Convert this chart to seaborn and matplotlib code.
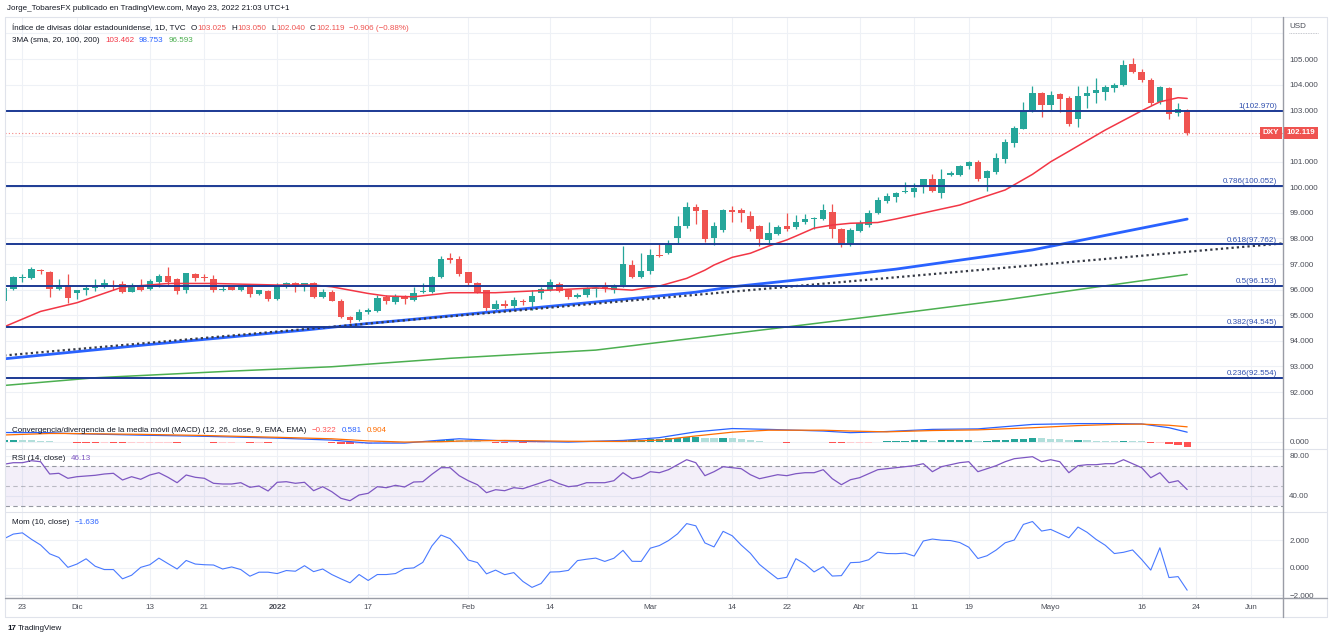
import numpy as np
import pandas as pd
import matplotlib
matplotlib.use("Agg")
import matplotlib.pyplot as plt
import seaborn as sns
from matplotlib.lines import Line2D
from matplotlib.text import Annotation
from matplotlib.transforms import blended_transform_factory

# ---------------- data ----------------
open_ = [95.55, 96.01, 96.44, 96.47, 96.78, 96.70, 96.02, 96.17, 95.88, 96.00,
         96.08, 96.10, 96.14, 96.21, 95.92, 96.18, 96.01, 96.31, 96.52, 96.40,
         95.98, 96.62, 96.50, 96.42, 95.99, 96.10, 96.00, 96.11, 95.82, 95.94,
         95.62, 96.09, 96.25, 96.15, 96.24, 95.70, 95.89, 95.55, 94.94, 94.81,
         95.12, 95.16, 95.72, 95.53, 95.76, 95.60, 95.91, 95.90, 96.50, 97.23,
         97.19, 96.67, 96.24, 95.98, 95.24, 95.44, 95.36, 95.55, 95.50, 95.88,
         95.98, 96.22, 95.98, 95.72, 95.79, 96.02, 96.12, 95.98, 96.18, 96.96,
         96.48, 96.74, 97.36, 97.42, 98.00, 98.48, 99.24, 99.11, 98.00, 98.33,
         99.10, 99.11, 98.87, 98.49, 97.94, 98.17, 98.48, 98.43, 98.62, 98.76,
         98.76, 99.04, 98.37, 97.78, 98.30, 98.52, 98.98, 99.45, 99.63, 99.80,
         99.82, 100.04, 100.32, 99.76, 100.48, 100.47, 100.82, 100.97, 100.34, 100.60,
         101.10, 101.71, 102.27, 103.01, 103.69, 103.20, 103.62, 103.49, 102.66, 103.55,
         103.66, 103.73, 103.87, 103.99, 104.79, 104.51, 104.18, 103.31, 103.86, 102.88,
         103.025]
high_ = [96.20, 96.55, 96.60, 96.89, 96.80, 96.72, 96.42, 96.60, 96.00, 96.18,
         96.42, 96.40, 96.38, 96.34, 96.25, 96.42, 96.42, 96.60, 96.87, 96.45,
         96.66, 96.64, 96.60, 96.58, 96.20, 96.15, 96.18, 96.15, 96.00, 96.00,
         96.26, 96.28, 96.30, 96.27, 96.28, 96.04, 96.00, 95.62, 94.98, 95.26,
         95.30, 95.78, 95.80, 95.82, 95.80, 96.12, 96.24, 96.55, 97.30, 97.42,
         97.30, 96.70, 96.30, 96.00, 95.58, 95.58, 95.70, 95.62, 95.99, 96.10,
         96.40, 96.30, 96.00, 95.85, 96.10, 96.12, 96.30, 96.22, 97.72, 97.15,
         97.42, 97.60, 97.78, 97.92, 98.87, 99.42, 99.33, 99.12, 98.62, 99.15,
         99.28, 99.18, 99.05, 98.52, 98.62, 98.52, 98.99, 98.92, 98.97, 98.85,
         99.35, 99.34, 98.40, 98.40, 98.70, 99.10, 99.62, 99.76, 99.82, 100.19,
         100.15, 100.33, 100.52, 100.72, 100.62, 100.88, 101.02, 101.05, 100.66, 101.32,
         101.88, 102.40, 103.34, 103.95, 103.72, 103.75, 103.68, 103.55, 103.96, 103.95,
         104.25, 104.00, 104.05, 104.96, 105.03, 104.62, 104.25, 103.95, 103.92, 103.30,
         103.05]
low_ = [95.50, 95.98, 96.30, 96.42, 96.62, 95.72, 95.98, 95.46, 95.62, 95.80,
        95.95, 96.08, 95.98, 95.86, 95.90, 95.95, 95.99, 96.10, 96.17, 95.82,
        95.85, 96.35, 96.33, 95.92, 95.96, 95.97, 95.96, 95.72, 95.80, 95.55,
        95.58, 96.05, 95.90, 95.95, 95.68, 95.68, 95.55, 94.88, 94.68, 94.78,
        95.05, 95.12, 95.43, 95.42, 95.45, 95.55, 95.88, 95.88, 96.45, 97.05,
        96.55, 96.20, 95.85, 95.14, 95.16, 95.30, 95.30, 95.40, 95.22, 95.65,
        95.95, 95.90, 95.65, 95.66, 95.70, 95.70, 95.90, 95.85, 96.10, 96.45,
        96.45, 96.62, 97.28, 97.40, 97.80, 98.42, 98.55, 97.85, 97.74, 98.25,
        98.64, 98.64, 98.30, 97.72, 97.82, 98.12, 98.30, 98.38, 98.55, 98.35,
        98.72, 98.00, 97.68, 97.70, 98.25, 98.45, 98.95, 99.40, 99.42, 99.76,
        99.62, 99.76, 99.80, 99.56, 100.45, 100.42, 100.72, 100.25, 99.85, 100.50,
        100.95, 101.55, 102.25, 102.95, 102.75, 103.00, 102.95, 102.40, 102.36, 103.08,
        103.30, 103.42, 103.70, 103.95, 104.45, 104.12, 103.22, 103.25, 102.66, 102.78,
        102.04]
close_ = [96.05, 96.48, 96.48, 96.80, 96.74, 96.01, 96.17, 95.66, 95.98, 96.08,
          96.12, 96.27, 96.10, 95.92, 96.16, 95.99, 96.33, 96.54, 96.28, 95.96,
          96.64, 96.47, 96.44, 95.98, 96.03, 96.00, 96.10, 95.82, 95.97, 95.62,
          96.16, 96.24, 96.10, 96.24, 95.70, 95.92, 95.57, 94.92, 94.80, 95.14,
          95.20, 95.69, 95.55, 95.72, 95.62, 95.87, 95.96, 96.50, 97.18, 97.17,
          96.60, 96.24, 95.92, 95.27, 95.44, 95.36, 95.60, 95.50, 95.75, 96.02,
          96.28, 95.94, 95.72, 95.78, 96.05, 96.05, 96.05, 96.18, 97.00, 96.48,
          96.73, 97.35, 97.32, 97.74, 98.50, 99.24, 99.08, 97.97, 98.50, 99.11,
          99.04, 98.98, 98.36, 97.97, 98.20, 98.43, 98.38, 98.62, 98.76, 98.80,
          99.11, 98.37, 97.78, 98.33, 98.59, 99.00, 99.50, 99.64, 99.77, 99.85,
          99.95, 100.30, 99.85, 100.32, 100.55, 100.82, 100.98, 100.30, 100.63, 101.12,
          101.75, 102.30, 102.98, 103.66, 103.20, 103.59, 103.45, 102.46, 103.57, 103.68,
          103.79, 103.92, 104.00, 104.77, 104.48, 104.18, 103.27, 103.90, 102.85, 103.03,
          102.119]

sma20_idx = [0, 4, 8, 12, 13, 18, 23, 30, 34, 36, 40, 42, 45, 49, 54, 60, 65, 69, 72, 75,
             77, 78, 80, 82, 84, 86, 87, 89, 91, 93, 96, 98, 105, 107, 110, 113, 115, 117,
             121, 125, 127, 129, 130]
sma20_val = [94.55, 95.15, 95.49, 95.98, 96.10, 96.24, 96.24, 96.18, 96.18, 96.11, 95.85,
             95.75, 95.72, 95.88, 95.88, 95.98, 96.07, 95.98, 96.14, 96.44, 96.76, 96.96,
             97.26, 97.42, 97.70, 97.94, 98.09, 98.40, 98.52, 98.59, 98.62, 98.76, 99.30,
             99.54, 99.89, 100.50, 100.99, 101.40, 102.23, 102.98, 103.33, 103.49, 103.462]
sma100_idx = [0, 16, 33, 40, 44, 49, 71, 76, 80, 93, 98, 113, 130]
sma100_val = [93.30, 93.86, 94.42, 94.68, 94.81, 94.98, 95.72, 95.90, 96.11, 96.60, 96.80,
              97.55, 98.753]
sma200_idx = [0, 10, 25, 36, 49, 65, 85, 100, 110, 120, 130]
sma200_val = [92.26, 92.56, 92.82, 92.99, 93.32, 93.64, 94.50, 95.15, 95.60, 96.10, 96.593]

trend_idx = [0, 141]
trend_val = [93.43, 97.82]

fib_levels = [102.970, 100.052, 97.762, 96.153, 94.545, 92.554]
fib_labels = ["1(102.970)", "0.786(100.052)", "0.618(97.762)", "0.5(96.153)",
              "0.382(94.545)", "0.236(92.554)"]

macd_idx = [0, 5, 7, 15, 22, 30, 36, 40, 44, 48, 50, 55, 62, 68, 72, 76, 80, 84, 90, 93,
            97, 102, 107, 113, 118, 122, 125, 128, 130]
macd_line = [0.56, 0.55, 0.50, 0.40, 0.33, 0.22, 0.10, -0.08, -0.08, 0.10, 0.18, 0.05,
             -0.02, 0.08, 0.25, 0.60, 0.80, 0.75, 0.65, 0.55, 0.62, 0.75, 0.78, 1.05,
             1.10, 1.10, 1.08, 0.85, 0.581]
macd_signal = [0.41, 0.50, 0.50, 0.45, 0.38, 0.27, 0.18, 0.05, -0.02, 0.00, 0.04, 0.08,
               0.03, 0.02, 0.10, 0.35, 0.58, 0.70, 0.70, 0.65, 0.60, 0.68, 0.72, 0.85,
               0.98, 1.05, 1.07, 1.00, 0.904]
macd_hist = [0.10, 0.10, 0.09, 0.08, 0.06, 0.03, 0.01, -0.02,
             -0.05, -0.07, -0.08, -0.08, -0.09, -0.10, -0.09, -0.09, -0.08, -0.06, -0.05, -0.06, -0.04,
             -0.04, -0.04, -0.05, -0.05, -0.05, -0.04, -0.05, -0.05, -0.07, -0.04, -0.03, -0.03, -0.02, -0.04, -0.04,
             -0.06, -0.12, -0.15, -0.13, -0.12, -0.08, -0.07, -0.05, -0.04, -0.02,
             0.01, 0.05, 0.12, 0.15, 0.12, 0.08, 0.04,
             -0.03, -0.05, -0.07, -0.07, -0.08, -0.07, -0.05, -0.03, -0.03, -0.04,
             -0.02, 0.00, 0.02, 0.03, 0.04, 0.10, 0.10, 0.11, 0.15, 0.17, 0.20, 0.25, 0.30, 0.30, 0.22, 0.20, 0.22, 0.20,
             0.17, 0.12, 0.05, 0.00, -0.03, -0.05, -0.04, -0.04, -0.04, -0.02, -0.06, -0.10, -0.10, -0.08, -0.05,
             -0.01, 0.02, 0.05, 0.07, 0.08, 0.10, 0.07, 0.08, 0.09, 0.10, 0.11, 0.07, 0.07, 0.08, 0.11, 0.14, 0.18, 0.22,
             0.20, 0.19, 0.16, 0.08, 0.09, 0.08, 0.07, 0.06, 0.05, 0.07, 0.05, 0.02, -0.06, -0.06, -0.14, -0.18, -0.322]

rsi_vals = [71.5, 73.0, 73.0, 75.0, 74.0, 61.7, 62.4, 57.4, 59.0, 59.7,
            60.4, 61.7, 62.4, 55.7, 59.0, 56.4, 60.7, 63.0, 58.4, 53.0,
            60.7, 58.4, 57.4, 52.4, 51.7, 51.7, 53.0, 48.4, 49.7, 44.7,
            53.4, 54.0, 52.4, 53.4, 45.0, 49.0, 44.0, 37.4, 35.0, 40.7,
            42.4, 49.0, 48.0, 50.4, 48.7, 53.7, 54.0, 61.4, 68.0, 68.0,
            60, 55, 51, 43, 46, 45, 48, 47, 50, 53,
            56, 52, 49, 50, 53, 53, 53, 55, 63, 57,
            59, 64, 63, 66, 71, 76, 73, 60, 64, 69,
            68, 67, 61, 57, 59, 61, 60, 62, 63, 63,
            66, 57, 51, 56, 58, 62, 66, 67, 68, 69,
            70, 72, 64, 69, 71, 73, 74, 64, 67, 70,
            74, 77, 78, 79, 74, 76, 74, 63, 70, 71,
            71, 72, 72, 76, 72, 68, 58, 63, 53, 55,
            46.13]
mom_vals = [2.1, 2.43, 2.52, 2.05, 1.64, 1.0, 0.74, 0.02, 0.26, 0.64,
            0.1, -0.14, -0.14, -0.81, -0.55, 0.02, 0.21, 0.69, 0.29, -0.1,
            0.52, 0.26, 0.21, 0.19, -0.1, 0.05, -0.14, -0.62, -0.33, -0.33,
            -0.43, -0.21, -0.26, 0.14, -0.29, -0.1, -0.5, -0.81, -1.10, -0.5,
            -0.93, -0.5, -0.5, -0.43, -0.07, -0.02, 0.38, 1.57, 2.36, 2.10,
            1.40, 0.55, 0.37, -0.45, -0.18, -0.51, -0.36, -1.00, -1.43, -1.15,
            -0.32, -0.30, -0.20, 0.51, 0.61, 0.69, 0.45, 0.68, 1.25, 0.46,
            0.45, 1.41, 1.60, 1.96, 2.45, 3.19, 3.03, 1.79, 1.50, 2.63,
            2.31, 1.63, 1.04, 0.23, -0.30, -0.81, -0.70, 0.65, 0.26, -0.31,
            0.07, -0.61, -0.58, 0.36, 0.39, 0.57, 1.12, 1.02, 1.01, 1.05,
            0.84, 1.93, 2.07, 1.99, 1.96, 1.82, 1.48, 0.66, 0.86, 1.27,
            1.80, 2.00, 3.13, 3.34, 2.65, 2.77, 2.47, 2.16, 2.94, 2.56,
            2.04, 1.62, 1.02, 1.11, 1.28, 0.59, -0.18, 1.44, -0.72, -0.65,
            -1.636]

tick_dates = ["2021-11-23", "2021-12-01", "2021-12-13", "2021-12-21", "2022-01-03",
              "2022-01-17", "2022-02-01", "2022-02-14", "2022-03-01", "2022-03-14",
              "2022-03-22", "2022-04-01", "2022-04-11", "2022-04-19", "2022-05-02",
              "2022-05-16", "2022-05-24", "2022-06-01"]
tick_labels = ["23", "Dic", "13", "21", "2022", "17", "Feb", "14", "Mar", "14", "22",
               "Abr", "11", "19", "Mayo", "16", "24", "Jun"]

price_ticks = list(range(91, 107))

# ---------------- style ----------------
sns.set_theme(style="white")
plt.rcParams['font.family'] = ['Liberation Sans', 'DejaVu Sans']
plt.rcParams['axes.unicode_minus'] = True

W, H = 1332, 641
fig = plt.figure(figsize=(W / 100, H / 100), dpi=100)
fig.patch.set_facecolor('white')

TEAL, RED = '#26a69a', '#ef5350'
GRID = '#eef1f6'
TXT = '#131722'
LBL = '#4a4d57'
FS = 5.75
FIBC = '#1c3a94'
FIBT = '#2f4fae'


def rect(l, t, r, b):
    return [l / W, 1 - b / H, (r - l) / W, (b - t) / H]


ax = fig.add_axes(rect(5, 17, 1283, 418))
axm = fig.add_axes(rect(5, 418, 1283, 449))
axr = fig.add_axes(rect(5, 449, 1283, 512))
axo = fig.add_axes(rect(5, 512, 1283, 598))

x = np.arange(len(close_))
dates = pd.bdate_range("2021-11-19", "2022-06-15")
dates = dates[dates != pd.Timestamp("2021-12-24")]
tick_pos = [dates.get_loc(pd.Timestamp(d)) for d in tick_dates]

for a in (ax, axm, axr, axo):
    a.set_facecolor('white')
    for s in a.spines.values():
        s.set_visible(False)
    a.set_xlim(0.088, 140.53)
    a.set_xticks(tick_pos)
    a.yaxis.tick_right()
    a.tick_params(axis='both', length=0, labelsize=FS, labelcolor=LBL, pad=4.5)
    a.grid(True, color=GRID, lw=0.8)
    a.set_axisbelow(True)
for a in (ax, axm, axr):
    a.tick_params(labelbottom=False)
axo.set_xticklabels(tick_labels)
axo.tick_params(axis='x', pad=4.3)
for t in axo.get_xticklabels():
    if t.get_text() == "2022":
        t.set_fontweight('bold')

# ---------------- main price panel ----------------
o = np.array(open_); c = np.array(close_); hi = np.array(high_); lo = np.array(low_)
col = np.where(c >= o, TEAL, RED)
ax.vlines(x, lo, hi, colors=col, lw=0.9, zorder=3)
ax.bar(x, np.maximum(np.abs(c - o), 0.015), bottom=np.minimum(o, c), width=0.72,
       color=col, lw=0, zorder=4)

sns.lineplot(x=sma200_idx, y=sma200_val, ax=ax, color='#4caf50', linewidth=1.1, zorder=5)
sns.lineplot(x=sma100_idx, y=sma100_val, ax=ax, color='#2962ff', linewidth=2.0, zorder=5)
sns.lineplot(x=sma20_idx, y=sma20_val, ax=ax, color='#f23645', linewidth=1.1, zorder=5)
ax.plot(trend_idx, trend_val, color='#363a45', lw=1.6, ls=(0, (1, 1.4)), zorder=6)

blend = blended_transform_factory(ax.transAxes, ax.transData)
for lvl, lab in zip(fib_levels, fib_labels):
    ax.axhline(lvl, color=FIBC, lw=1.4, zorder=6)
    ax.annotate(lab, xy=(1, lvl), xycoords=blend, xytext=(-4.3, 0.6),
                textcoords='offset points', ha='right', va='bottom', fontsize=FS,
                color=FIBT, zorder=7, annotation_clip=False)

last = close_[-1]
ax.axhline(last, color=RED, lw=0.8, ls=(0, (1, 2)), alpha=0.7, zorder=2)
ax.annotate(f"{last:.3f}", xy=(1, last), xycoords=blend, xytext=(2.6, 0),
            textcoords='offset points', ha='left', va='center', fontsize=FS,
            color='white', fontweight='bold', annotation_clip=False, zorder=8,
            bbox=dict(boxstyle='square,pad=0.35', fc=RED, ec='none'))
ax.annotate("DXY", xy=(1, last), xycoords=blend, xytext=(-3, 0),
            textcoords='offset points', ha='right', va='center', fontsize=FS,
            color='white', fontweight='bold', annotation_clip=False, zorder=8,
            bbox=dict(boxstyle='square,pad=0.35', fc=RED, ec='none'))

ax.set_ylim(90.99, 106.64)
ax.set_yticks(price_ticks)
ax.set_yticklabels(["" if (v in (91, 102, 106)) else f"{v:.3f}" for v in price_ticks])

# ---------------- MACD ----------------
hcol = []
for k, hv in enumerate(macd_hist):
    pv = macd_hist[k - 1] if k > 0 else hv
    if hv >= 0:
        hcol.append('#26a69a' if hv >= pv else '#b2dfdb')
    else:
        hcol.append('#ff5252' if hv < pv else '#ffcdd2')
axm.bar(x, macd_hist, width=0.8, color=hcol, lw=0, zorder=3)
sns.lineplot(x=macd_idx, y=macd_line, ax=axm, color='#2962ff', linewidth=0.9, zorder=4)
sns.lineplot(x=macd_idx, y=macd_signal, ax=axm, color='#ff6d00', linewidth=0.9, zorder=4)
axm.set_ylim(-0.44, 1.44)
axm.set_yticks([0])
axm.set_yticklabels(["0.000"])

# ---------------- RSI ----------------
axr.axhspan(30, 70, color='#7e57c2', alpha=0.09, lw=0, zorder=1)
for lv, al in ((70, 1.0), (50, 0.6), (30, 1.0)):
    axr.axhline(lv, color='#9598a1', lw=0.8, ls=(0, (4, 3)), alpha=al, zorder=2)
sns.lineplot(x=x, y=rsi_vals, ax=axr, color='#7e57c2', linewidth=0.9, zorder=4)
axr.set_ylim(23.7, 86.7)
axr.set_yticks([40, 80])
axr.set_yticklabels(["40.00", "80.00"])

# ---------------- Momentum ----------------
sns.lineplot(x=x, y=mom_vals, ax=axo, color='#2962ff', linewidth=0.8, alpha=0.85, zorder=4)
axo.set_ylim(-2.2, 4.03)
axo.set_yticks([-2, 0, 2])
axo.set_yticklabels(["\u22122.000", "0.000", "2.000"])

for a in (ax, axm, axr, axo):
    a.set_xlabel("")
    a.set_ylabel("")
    a.set_xlim(0.088, 140.53)


# ---------------- frame lines ----------------
def fline(x0, y0, x1, y1, color, lw=0.8, ls='-'):
    fig.add_artist(Line2D([x0 / W, x1 / W], [1 - y0 / H, 1 - y1 / H],
                          transform=fig.transFigure, color=color, lw=lw, ls=ls, zorder=10))


FR = '#e0e3eb'
fline(5, 17, 1327, 17, FR)
fline(5, 617, 1327, 617, FR)
fline(5, 17, 5, 617, FR)
fline(1327, 17, 1327, 617, FR)
for yy in (418, 449, 512):
    fline(5, yy, 1327, yy, FR)
fline(5, 598, 1327, 598, '#9a9da6', lw=1.0)
fline(1283, 17, 1283, 617, '#9a9da6', lw=1.0)
fline(1289, 33, 1318, 33, '#b2b5be', lw=0.6, ls=(0, (1, 1)))


# ---------------- texts ----------------
def chain(x_px, y_px, parts, bold_first=False):
    t = fig.text(x_px / W, 1 - y_px / H, parts[0][0], color=parts[0][1], fontsize=FS,
                 va='center', ha='left', zorder=11,
                 fontweight='bold' if bold_first else 'normal')
    for s, colr, gap in parts[1:]:
        a = Annotation(s, xy=(1, 0), xycoords=t, xytext=(gap, 0),
                       textcoords='offset points', color=colr, fontsize=FS,
                       va='bottom', ha='left', zorder=11)
        fig.add_artist(a)
        t = a
    return t


chain(7, 8, [("Jorge_TobaresFX publicado en TradingView.com, Mayo 23, 2022 21:03 UTC+1", TXT)])
chain(12.5, 28, [("Índice de divisas dólar estadounidense, 1D, TVC", TXT),
                 ("O", TXT, 3.5), ("103.025", RED, 0.3),
                 ("H", TXT, 3.5), ("103.050", RED, 0.3),
                 ("L", TXT, 3.5), ("102.040", RED, 0.3),
                 ("C", TXT, 3.5), ("102.119", RED, 0.3),
                 ("\u22120.906 (\u22120.88%)", RED, 3.5)])
chain(12.5, 40, [("3MA (sma, 20, 100, 200)", TXT), ("103.462", '#f23645', 3.5),
                 ("98.753", '#2962ff', 3.5), ("96.593", '#4caf50', 3.5)])
chain(12.5, 430, [("Convergencia/divergencia de la media móvil (MACD) (12, 26, close, 9, EMA, EMA)", TXT),
                  ("\u22120.322", '#ff5252', 3.5), ("0.581", '#2962ff', 3.5),
                  ("0.904", '#ff6d00', 3.5)])
chain(12.5, 459, [("RSI (14, close)", TXT), ("46.13", '#7e57c2', 3.5)])
chain(12.5, 522, [("Mom (10, close)", TXT), ("\u22121.636", '#2962ff', 3.5)])
fig.text(1289 / W, 1 - 27 / H, "USD", fontsize=FS, color=LBL, va='center', ha='left')
chain(7, 628, [("17", TXT), ("TradingView", TXT, 1.5)], bold_first=True)

fig.savefig("out.png", dpi=100, facecolor='white')
